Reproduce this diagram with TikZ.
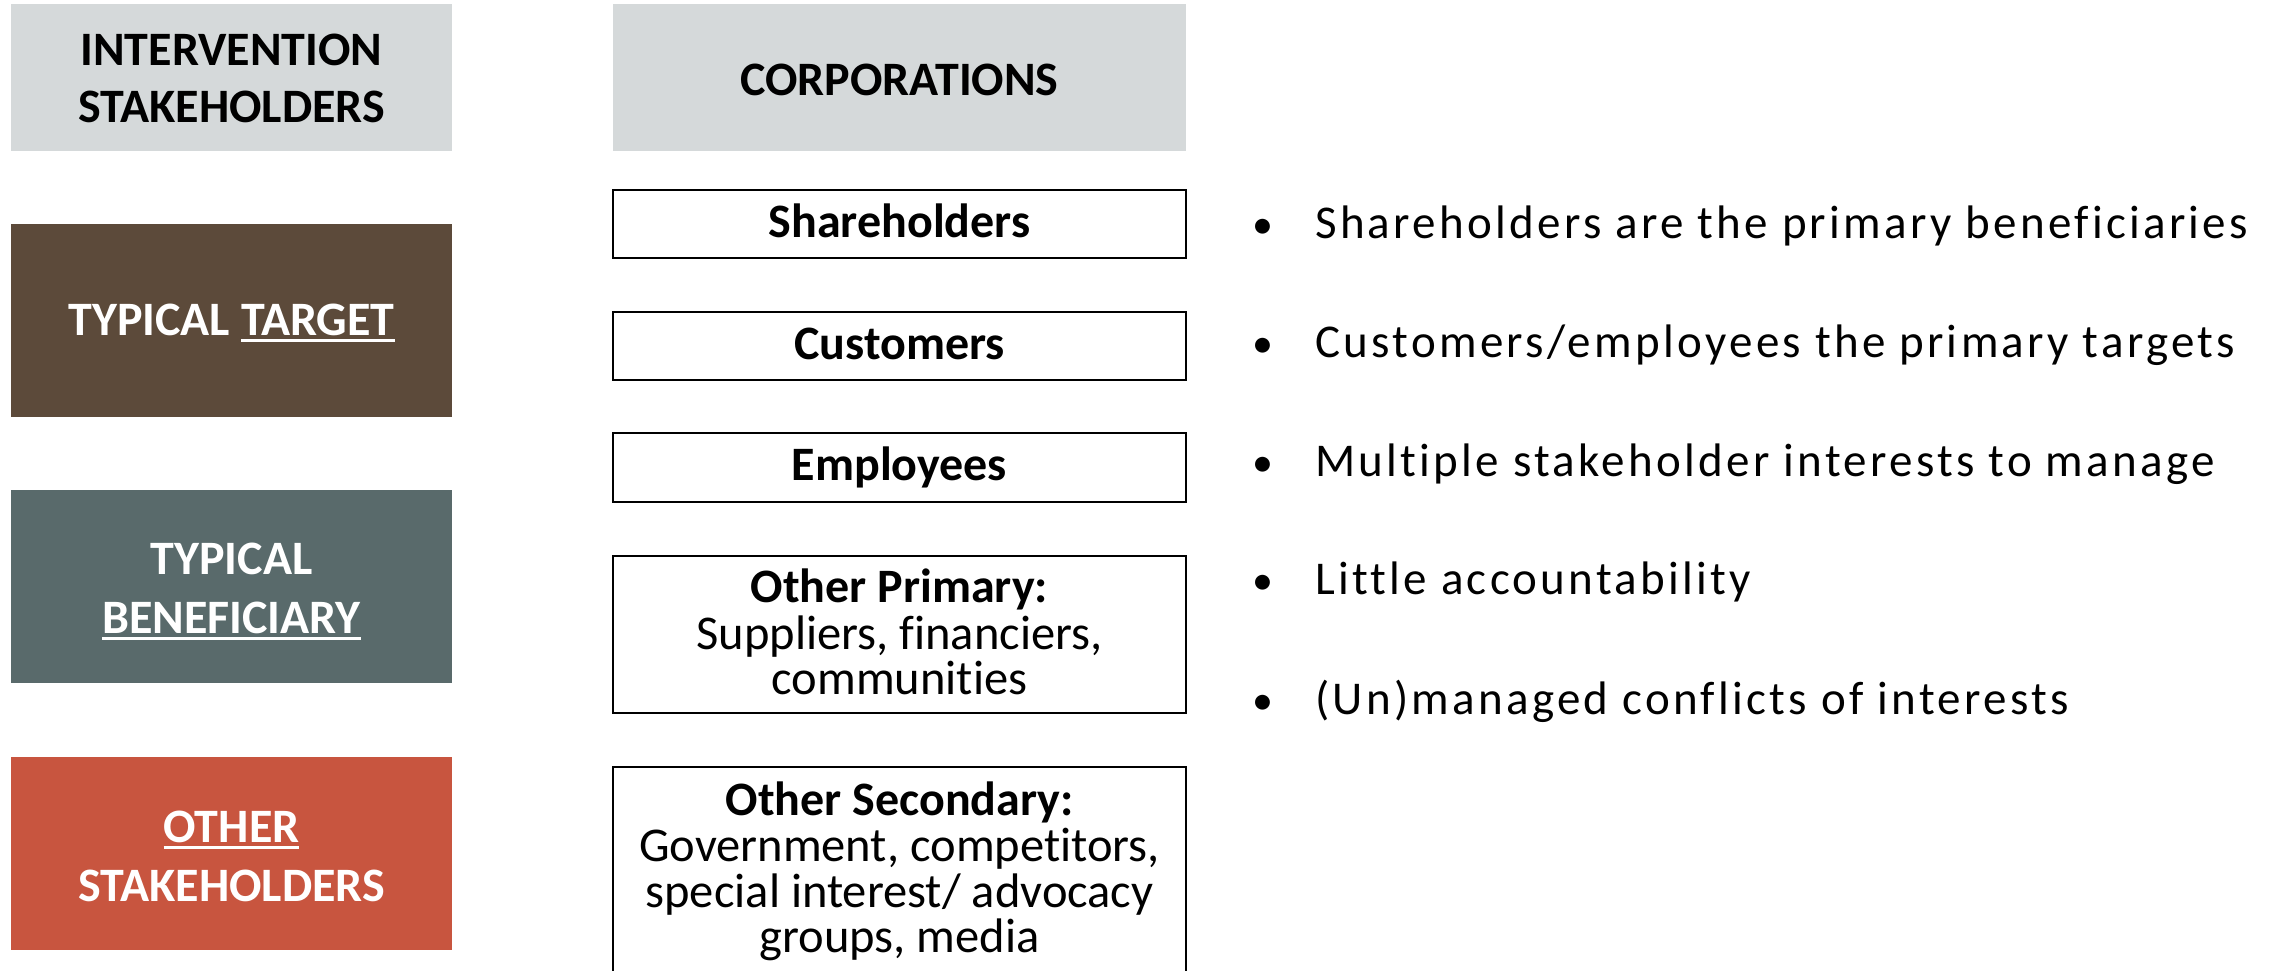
\documentclass[tikz,border=0pt]{standalone}
\usepackage{fontspec}
\setmainfont[Ligatures=NoCommon]{Carlito}
\newfontfamily\notefont[LetterSpace=7, Ligatures=NoCommon]{Carlito}
\definecolor{hdrgray}{HTML}{D5D9DA}
\definecolor{targetbrown}{HTML}{5C4A3A}
\definecolor{benefslate}{HTML}{596A6B}
\definecolor{otherred}{HTML}{C8553F}
% white underline drawn a little below the baseline
\newcommand\undl[1]{\setbox0\hbox{#1}\rlap{\rule[-7pt]{\wd0}{3pt}}\box0}
\tikzset{
  catbox/.style={draw=none, inner sep=0pt, minimum width=441pt},
  corpbox/.style={draw=black, line width=2.3pt, fill=white, inner sep=0pt, minimum width=573pt},
  cattext/.style={anchor=base, inner sep=0pt, font=\fontsize{48}{56}\selectfont\bfseries},
  boxbold/.style={anchor=base, inner sep=0pt, font=\fontsize{48}{56}\selectfont\bfseries},
  boxtext/.style={anchor=base, inner sep=0pt, font=\fontsize{48.5}{56}\selectfont},
  bulletmark/.style={anchor=base, inner sep=0pt, font=\fontsize{42}{56}\selectfont},
  notetext/.style={anchor=base west, inner sep=0pt, font=\fontsize{47}{56}\notefont},
}
\begin{document}
\begin{tikzpicture}[x=1pt,y=-1pt]
\useasboundingbox (0,0) rectangle (2271,970);

% left column: stakeholder categories
\node[catbox, fill=hdrgray, minimum height=147pt] (hL) at (231.5,77.5) {};
\node[cattext] (hL1) at (231.5,65) {INTERVENTION};
\node[cattext] (hL2) at (231.5,122) {STAKEHOLDERS};

\node[catbox, fill=targetbrown, minimum height=193pt] (tgt) at (231.5,320.5) {};
\node[cattext, text=white] (tgt1) at (231.5,335) {TYPICAL \undl{TARGET}};

\node[catbox, fill=benefslate, minimum height=193pt] (ben) at (231.5,586.5) {};
\node[cattext, text=white] (ben1) at (231.5,574) {TYPICAL};
\node[cattext, text=white] (ben2) at (231.5,633) {\undl{BENEFICIARY}};

\node[catbox, fill=otherred, minimum height=193pt] (oth) at (231.5,853.5) {};
\node[cattext, text=white] (oth1) at (231.5,842) {\undl{OTHER}};
\node[cattext, text=white] (oth2) at (231.5,901) {STAKEHOLDERS};

% middle column: corporations
\node[catbox, fill=hdrgray, minimum width=573pt, minimum height=147pt] (hR) at (899.5,77.5) {};
\node[boxbold] (hR1) at (899.5,95) {CORPORATIONS};

\node[corpbox, minimum height=68pt] (sh) at (899.5,224) {};
\node[boxbold] (sh1) at (899.5,237) {Shareholders};

\node[corpbox, minimum height=68pt] (cu) at (899.5,346) {};
\node[boxbold] (cu1) at (899.5,359) {Customers};

\node[corpbox, minimum height=69pt] (em) at (899.5,467.5) {};
\node[boxbold] (em1) at (899.5,480) {Employees};

\node[corpbox, minimum height=157pt] (pr) at (899.5,634.5) {};
\node[boxbold] (pr1) at (899.5,602) {Other Primary:};
\node[boxtext] (pr2) at (899.5,649) {Suppliers, financiers,};
\node[boxtext] (pr3) at (899.5,694) {communities};

\node[corpbox, minimum height=233pt] (se) at (899.5,883.5) {};
\node[boxbold] (se1) at (899.5,815) {Other Secondary:};
\node[boxtext] (se2) at (899.5,861) {Government, competitors,};
\node[boxtext] (se3) at (899.5,907) {special interest/ advocacy};
\node[boxtext] (se4) at (899.5,952) {groups, media};

% right column: bullet notes
\foreach \name/\yy/\txt in {
  n1/238/{Shareholders are the primary beneficiaries},
  n2/357/{Customers/employees the primary targets},
  n3/476/{Multiple stakeholder interests to manage},
  n4/594/{Little accountability},
  n5/714/{(Un)managed conflicts of interests}}{
  \node[bulletmark] (\name b) at (1263,\yy) {•};
  \node[notetext] (\name) at (1315,\yy) {\txt};
}
\end{tikzpicture}
\end{document}
